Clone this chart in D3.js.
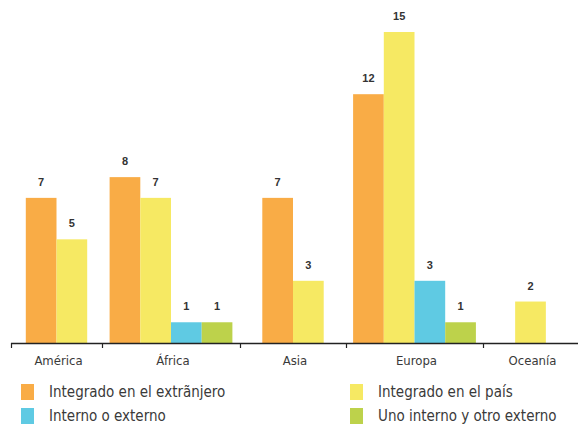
<!DOCTYPE html>
<html>
<head>
<meta charset="utf-8">
<script src="https://cdn.jsdelivr.net/npm/d3@7"></script>
<style>
    html, body { margin: 0; padding: 0; background: #fff; }
    svg { display: block; }
    .cat-label { font-family: "Liberation Sans Narrow", "DejaVu Sans Condensed", "Open Sans", sans-serif; font-size: 13px; fill: #3a3a3a; }
    .legend-label { font-family: "Liberation Sans Narrow", "DejaVu Sans Condensed", "Open Sans", sans-serif; font-size: 15px; fill: #3a3a3a; }
    .value-label { font-family: "Liberation Sans", Arial, sans-serif; font-size: 11px; font-weight: bold; fill: #333; }
</style>
</head>
<body>
<div id="chart"></div>
<script>
// Data
const regions = ['América', 'África', 'Asia', 'Europa', 'Oceanía'];
const seriesNames = ['Integrado en el extrãnjero', 'Integrado en el país', 'Interno o externo', 'Uno interno y otro externo'];
const seriesColors = ['#f9ac46', '#f6e963', '#5fcae3', '#bdd24b'];
// null = no bar for that region
const extranjero = [7, 8, 7, 12, null];
const pais = [5, 7, 3, 15, 2];
const interno = [null, 1, null, 3, null];
const mixto = [null, 1, null, 1, null];
const seriesValues = [extranjero, pais, interno, mixto];

const width = 578, height = 424;
const baseY = 343;
const barW = 30.7;
// category boundaries along the axis (uneven in the original)
const groupEdges = [11, 102, 240, 346, 483, 578];

const svg = d3.select('#chart').append('svg')
    .attr('width', width)
    .attr('height', height);

const y = d3.scaleLinear().domain([0, 15]).range([baseY, 32]);
const edge = d3.scaleLinear().domain(d3.range(groupEdges.length)).range(groupEdges);

// bars: only the series present in a region, packed and centred
const bars = [];
regions.forEach((r, i) => {
    const present = seriesValues.map((vals, s) => ({ s, v: vals[i] })).filter(d => d.v != null);
    const inner = d3.scaleBand()
        .domain(present.map(d => d.s))
        .range([0, present.length * barW]);
    const start = edge(i + 0.5) - present.length * barW / 2;
    present.forEach(d => bars.push({ region: i, s: d.s, v: d.v, x: start + inner(d.s) }));
});

svg.append('g').selectAll('rect')
    .data(bars)
    .enter()
    .append('rect')
    .attr('x', d => d.x)
    .attr('y', d => y(d.v))
    .attr('width', barW)
    .attr('height', d => baseY - y(d.v))
    .attr('fill', d => seriesColors[d.s]);

svg.append('g').selectAll('text')
    .data(bars)
    .enter()
    .append('text')
    .attr('class', 'value-label')
    .attr('x', d => d.x + barW / 2)
    .attr('y', d => y(d.v) - 12)
    .attr('text-anchor', 'middle')
    .text(d => d.v);

// axis
const axis = svg.append('g');
axis.append('line')
    .attr('x1', groupEdges[0]).attr('x2', width)
    .attr('y1', baseY + 0.5).attr('y2', baseY + 0.5)
    .attr('stroke', '#222').attr('stroke-width', 1.3);
axis.selectAll('.tick')
    .data(groupEdges.slice(0, -1))
    .enter()
    .append('line')
    .attr('x1', d => d + 0.5).attr('x2', d => d + 0.5)
    .attr('y1', baseY).attr('y2', baseY + 5)
    .attr('stroke', '#222').attr('stroke-width', 1.2);
axis.selectAll('.cat-label')
    .data(regions)
    .enter()
    .append('text')
    .attr('class', 'cat-label')
    .attr('x', (d, i) => edge(i + 0.5) + 2)
    .attr('y', 365)
    .attr('text-anchor', 'middle')
    .text(d => d);

// legend: two columns
const legendOrder = [0, 1, 2, 3];
const legend = svg.append('g');
const items = legend.selectAll('g')
    .data(legendOrder)
    .enter()
    .append('g')
    .attr('transform', (d, i) => `translate(${i % 2 === 0 ? 21 : 350}, ${384 + Math.floor(i / 2) * 24})`);
items.append('rect')
    .attr('width', 13)
    .attr('height', 16)
    .attr('fill', d => seriesColors[d]);
items.append('text')
    .attr('class', 'legend-label')
    .attr('x', 28)
    .attr('y', 13)
    .text(d => seriesNames[d]);
</script>
</body>
</html>
